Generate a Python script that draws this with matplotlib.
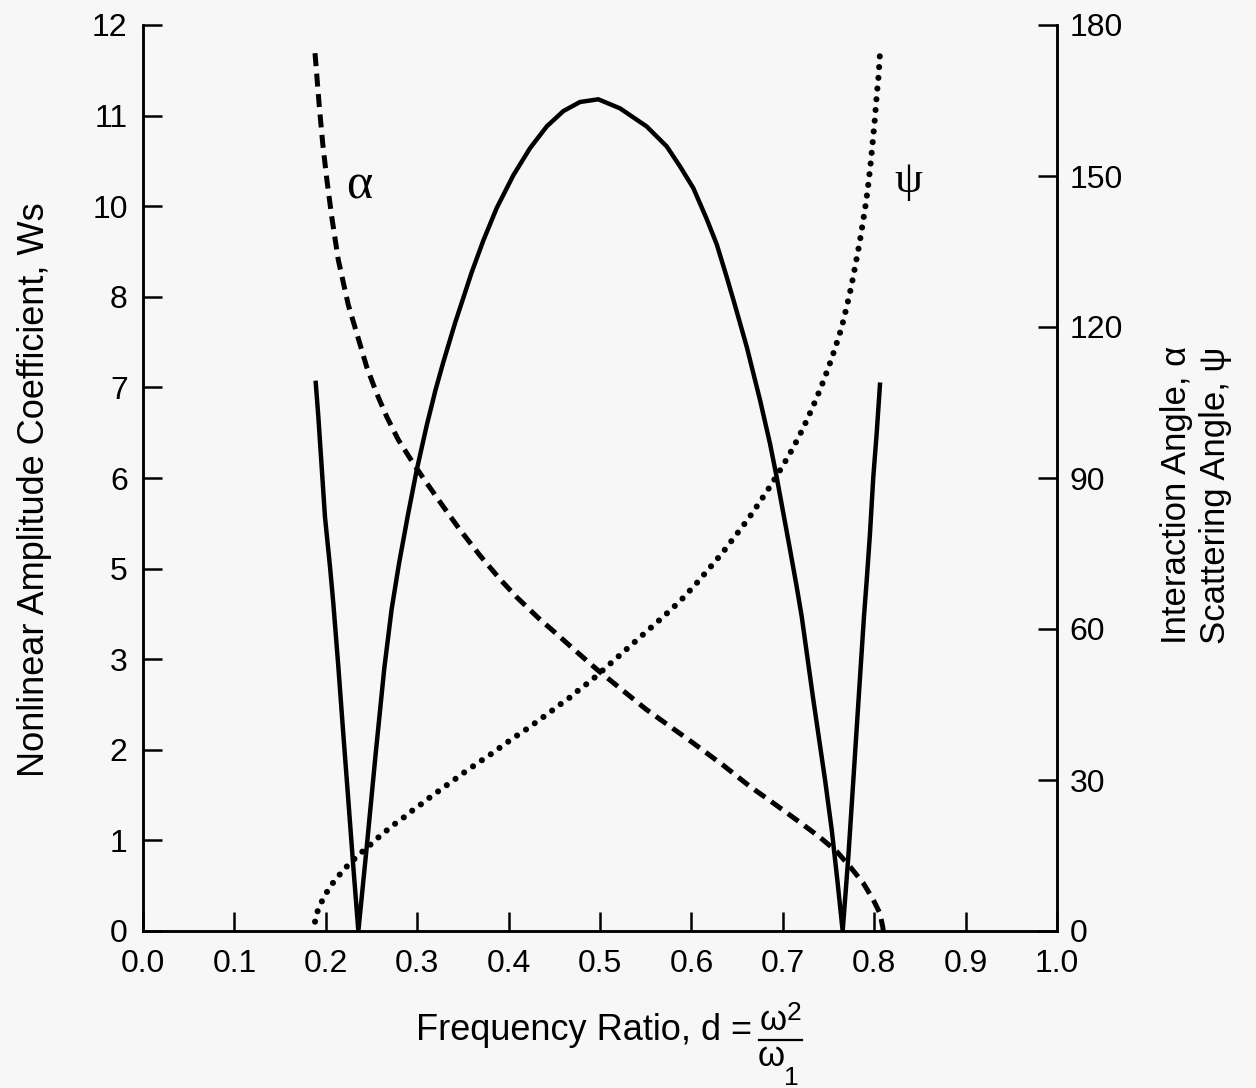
import matplotlib
matplotlib.use("Agg")
import matplotlib.pyplot as plt

plt.rcParams['font.family'] = ['Liberation Sans', 'DejaVu Sans']

# ---- data ----
# left axis: tick positions are evenly spaced, labelled as printed in the original
left_tick_labels = ["0", "1", "2", "3", "5", "6", "7", "8", "10", "11", "12"]
right_ticks = [0, 30, 60, 90, 120, 150, 180]
x_ticks = [0.0, 0.1, 0.2, 0.3, 0.4, 0.5, 0.6, 0.7, 0.8, 0.9, 1.0]

# Ws (solid), in left-axis tick-position units
ws_x = [0.1890, 0.1918, 0.1955, 0.1991, 0.2046, 0.2082, 0.2137, 0.2191, 0.2246,
        0.2301, 0.2356,
        0.2450, 0.2545, 0.2640, 0.2720, 0.2800, 0.2900, 0.2995, 0.3104, 0.3200,
        0.3286, 0.3414, 0.3596, 0.3723, 0.3870, 0.4051, 0.4234, 0.4417, 0.4599,
        0.4781, 0.4981, 0.5219, 0.5511, 0.5730, 0.5875, 0.6021, 0.6167, 0.6277,
        0.6386, 0.6470, 0.6605, 0.6751, 0.6860, 0.6933, 0.7006, 0.7079, 0.7152,
        0.7207, 0.7330, 0.7462, 0.7535, 0.7597, 0.7655,
        0.7717, 0.7772, 0.7888, 0.7918, 0.7954, 0.7990, 0.8027, 0.8063]
ws_pos = [6.05, 5.68, 5.12, 4.57, 4.02, 3.62, 2.92, 2.18, 1.45,
          0.71, 0.00,
          0.95, 1.95, 2.90, 3.55, 4.05, 4.60, 5.09, 5.58, 5.97,
          6.28, 6.71, 7.27, 7.62, 7.98, 8.34, 8.64, 8.88, 9.05,
          9.15, 9.18, 9.08, 8.88, 8.66, 8.44, 8.20, 7.86, 7.58,
          7.22, 6.93, 6.45, 5.86, 5.38, 5.01, 4.61, 4.21, 3.80,
          3.47, 2.58, 1.67, 1.12, 0.56, 0.00,
          0.82, 1.67, 3.47, 3.87, 4.39, 5.01, 5.49, 6.03]

# alpha, interaction angle (dashed), degrees
alpha_x = [0.1882, 0.1929, 0.1966, 0.2010, 0.2064, 0.2137, 0.2246, 0.2338,
           0.2447, 0.2557, 0.2666, 0.2793, 0.2957, 0.3104, 0.3286, 0.3468,
           0.3687, 0.3906, 0.4090, 0.4325, 0.4489, 0.4781, 0.4964, 0.5500,
           0.6000, 0.6350, 0.6641, 0.6860, 0.7042, 0.7224, 0.7407, 0.7590,
           0.7735, 0.7881, 0.7990, 0.8063, 0.8093, 0.8100]
alpha_deg = [174.4, 163.8, 156.5, 149.5, 142.0, 133.3, 124.4, 118.8,
             112.1, 106.8, 102.2, 97.6, 92.9, 89.0, 84.3, 79.7,
             74.6, 69.9, 66.3, 62.2, 59.6, 54.9, 52.0, 44.1,
             37.6, 32.9, 28.7, 25.9, 23.5, 21.1, 18.6, 15.8,
             12.8, 9.5, 6.2, 3.5, 0.85, 0.0]

# psi, scattering angle (dotted), degrees
psi_x = [0.1882, 0.1911, 0.1955, 0.2010, 0.2075, 0.2148, 0.2228, 0.2309,
         0.2392, 0.2476, 0.2568, 0.2659, 0.2750, 0.2841, 0.2936, 0.3031,
         0.3126, 0.3220, 0.3315, 0.3406, 0.3501, 0.3600, 0.3691, 0.3789,
         0.3884, 0.3979, 0.4073, 0.4172, 0.4270, 0.4365, 0.4460, 0.4555,
         0.4650, 0.4745, 0.4836, 0.4927, 0.5310, 0.5708, 0.5879, 0.6043,
         0.6193, 0.6338, 0.6481, 0.6619, 0.6751, 0.6878, 0.7002, 0.7119,
         0.7225, 0.7323, 0.7411, 0.7495, 0.7571, 0.7644, 0.7699, 0.7750,
         0.7793, 0.7837, 0.7874, 0.7910, 0.7940, 0.7965, 0.7987, 0.8009,
         0.8027, 0.8049, 0.8063]
psi_deg = [1.85, 3.97, 5.82, 7.69, 9.48, 11.13, 12.78, 14.25,
           15.64, 16.95, 18.48, 19.87, 21.20, 22.39, 23.78, 25.03,
           26.37, 27.62, 28.87, 30.06, 31.33, 32.58, 33.72, 34.91,
           36.16, 37.41, 38.60, 39.79, 41.06, 42.32, 43.57, 44.90,
           46.10, 47.55, 48.82, 50.13, 56.3, 62.7, 65.6, 68.8,
           72.0, 75.1, 78.5, 81.8, 85.3, 88.8, 92.5, 96.2,
           100.0, 103.9, 107.7, 111.7, 115.7, 119.9, 124.0, 128.1,
           132.2, 136.4, 140.5, 144.7, 149.0, 153.2, 157.4, 161.7,
           165.9, 170.1, 174.4]

bg = '#f7f7f7'
W, H = 1256, 1088
fig = plt.figure(figsize=(W/100, H/100), dpi=100, facecolor=bg)
ax = fig.add_axes([143/W, 1-931/H, (1057-143)/W, (931-25)/H])
ax.set_facecolor(bg)
ax2 = ax.twinx()

ax.plot(ws_x, ws_pos, color='black', lw=3.2, solid_joinstyle='round')
ax2.plot(alpha_x, alpha_deg, color='black', lw=3.6, linestyle=(0, (2.6, 1.5)))
ax2.plot(psi_x, psi_deg, color='black', lw=4.4, linestyle=(0, (0.01, 1.75)),
         dash_capstyle='round')

ax.set_xlim(0, 1.0)
ax.set_ylim(0, 10)
ax2.set_ylim(0, 180)

ax.set_xticks(x_ticks)
ax.set_xticklabels([f"{v:.1f}" for v in x_ticks])
ax.set_yticks(range(len(left_tick_labels)))
ax.set_yticklabels(left_tick_labels)
ax2.set_yticks(right_ticks)
ax2.set_yticklabels([str(v) for v in right_ticks])

for a in (ax, ax2):
    a.spines['top'].set_visible(False)
    for s in a.spines.values():
        s.set_linewidth(1.8)
ax.tick_params(axis='both', direction='in', length=14, width=1.8,
               labelsize=23, colors='black')
ax.tick_params(axis='y', pad=11)
ax.tick_params(axis='x', pad=13)
ax2.tick_params(axis='y', direction='in', length=14, width=1.8,
                labelsize=23, pad=9)

ax2.text(0.237, 148, "α", fontsize=36, family=['Liberation Serif'],
         ha='center', va='center')
ax2.text(0.837, 149, "ψ", fontsize=32, family=['Liberation Serif'],
         ha='center', va='center')

fig.text(35/W, 1-490/H, "Nonlinear Amplitude Coefficient, Ws",
         rotation=90, ha='center', va='center', fontsize=26)
fig.text(1196/W, 1-495/H, "Interaction Angle, α\nScattering Angle, ψ",
         rotation=90, ha='center', va='center', fontsize=25,
         multialignment='center', linespacing=1.25)

# x label with a built fraction
fig.text(752/W, 1-1040/H, "Frequency Ratio, d =", ha='right',
         va='baseline', fontsize=26)
fig.text(760/W, 1-1030/H, "ω", ha='left', va='baseline', fontsize=25)
fig.text(787/W, 1-1020/H, "2", ha='left', va='baseline', fontsize=19)
fig.text(758/W, 1-1066/H, "ω", ha='left', va='baseline', fontsize=25)
fig.text(784/W, 1-1085/H, "1", ha='left', va='baseline', fontsize=19)
fig.add_artist(plt.Line2D([759/W, 802/W], [1-1040/H, 1-1040/H],
                          color='black', lw=1.6, transform=fig.transFigure))

fig.savefig("out.png", dpi=100, facecolor=bg)
